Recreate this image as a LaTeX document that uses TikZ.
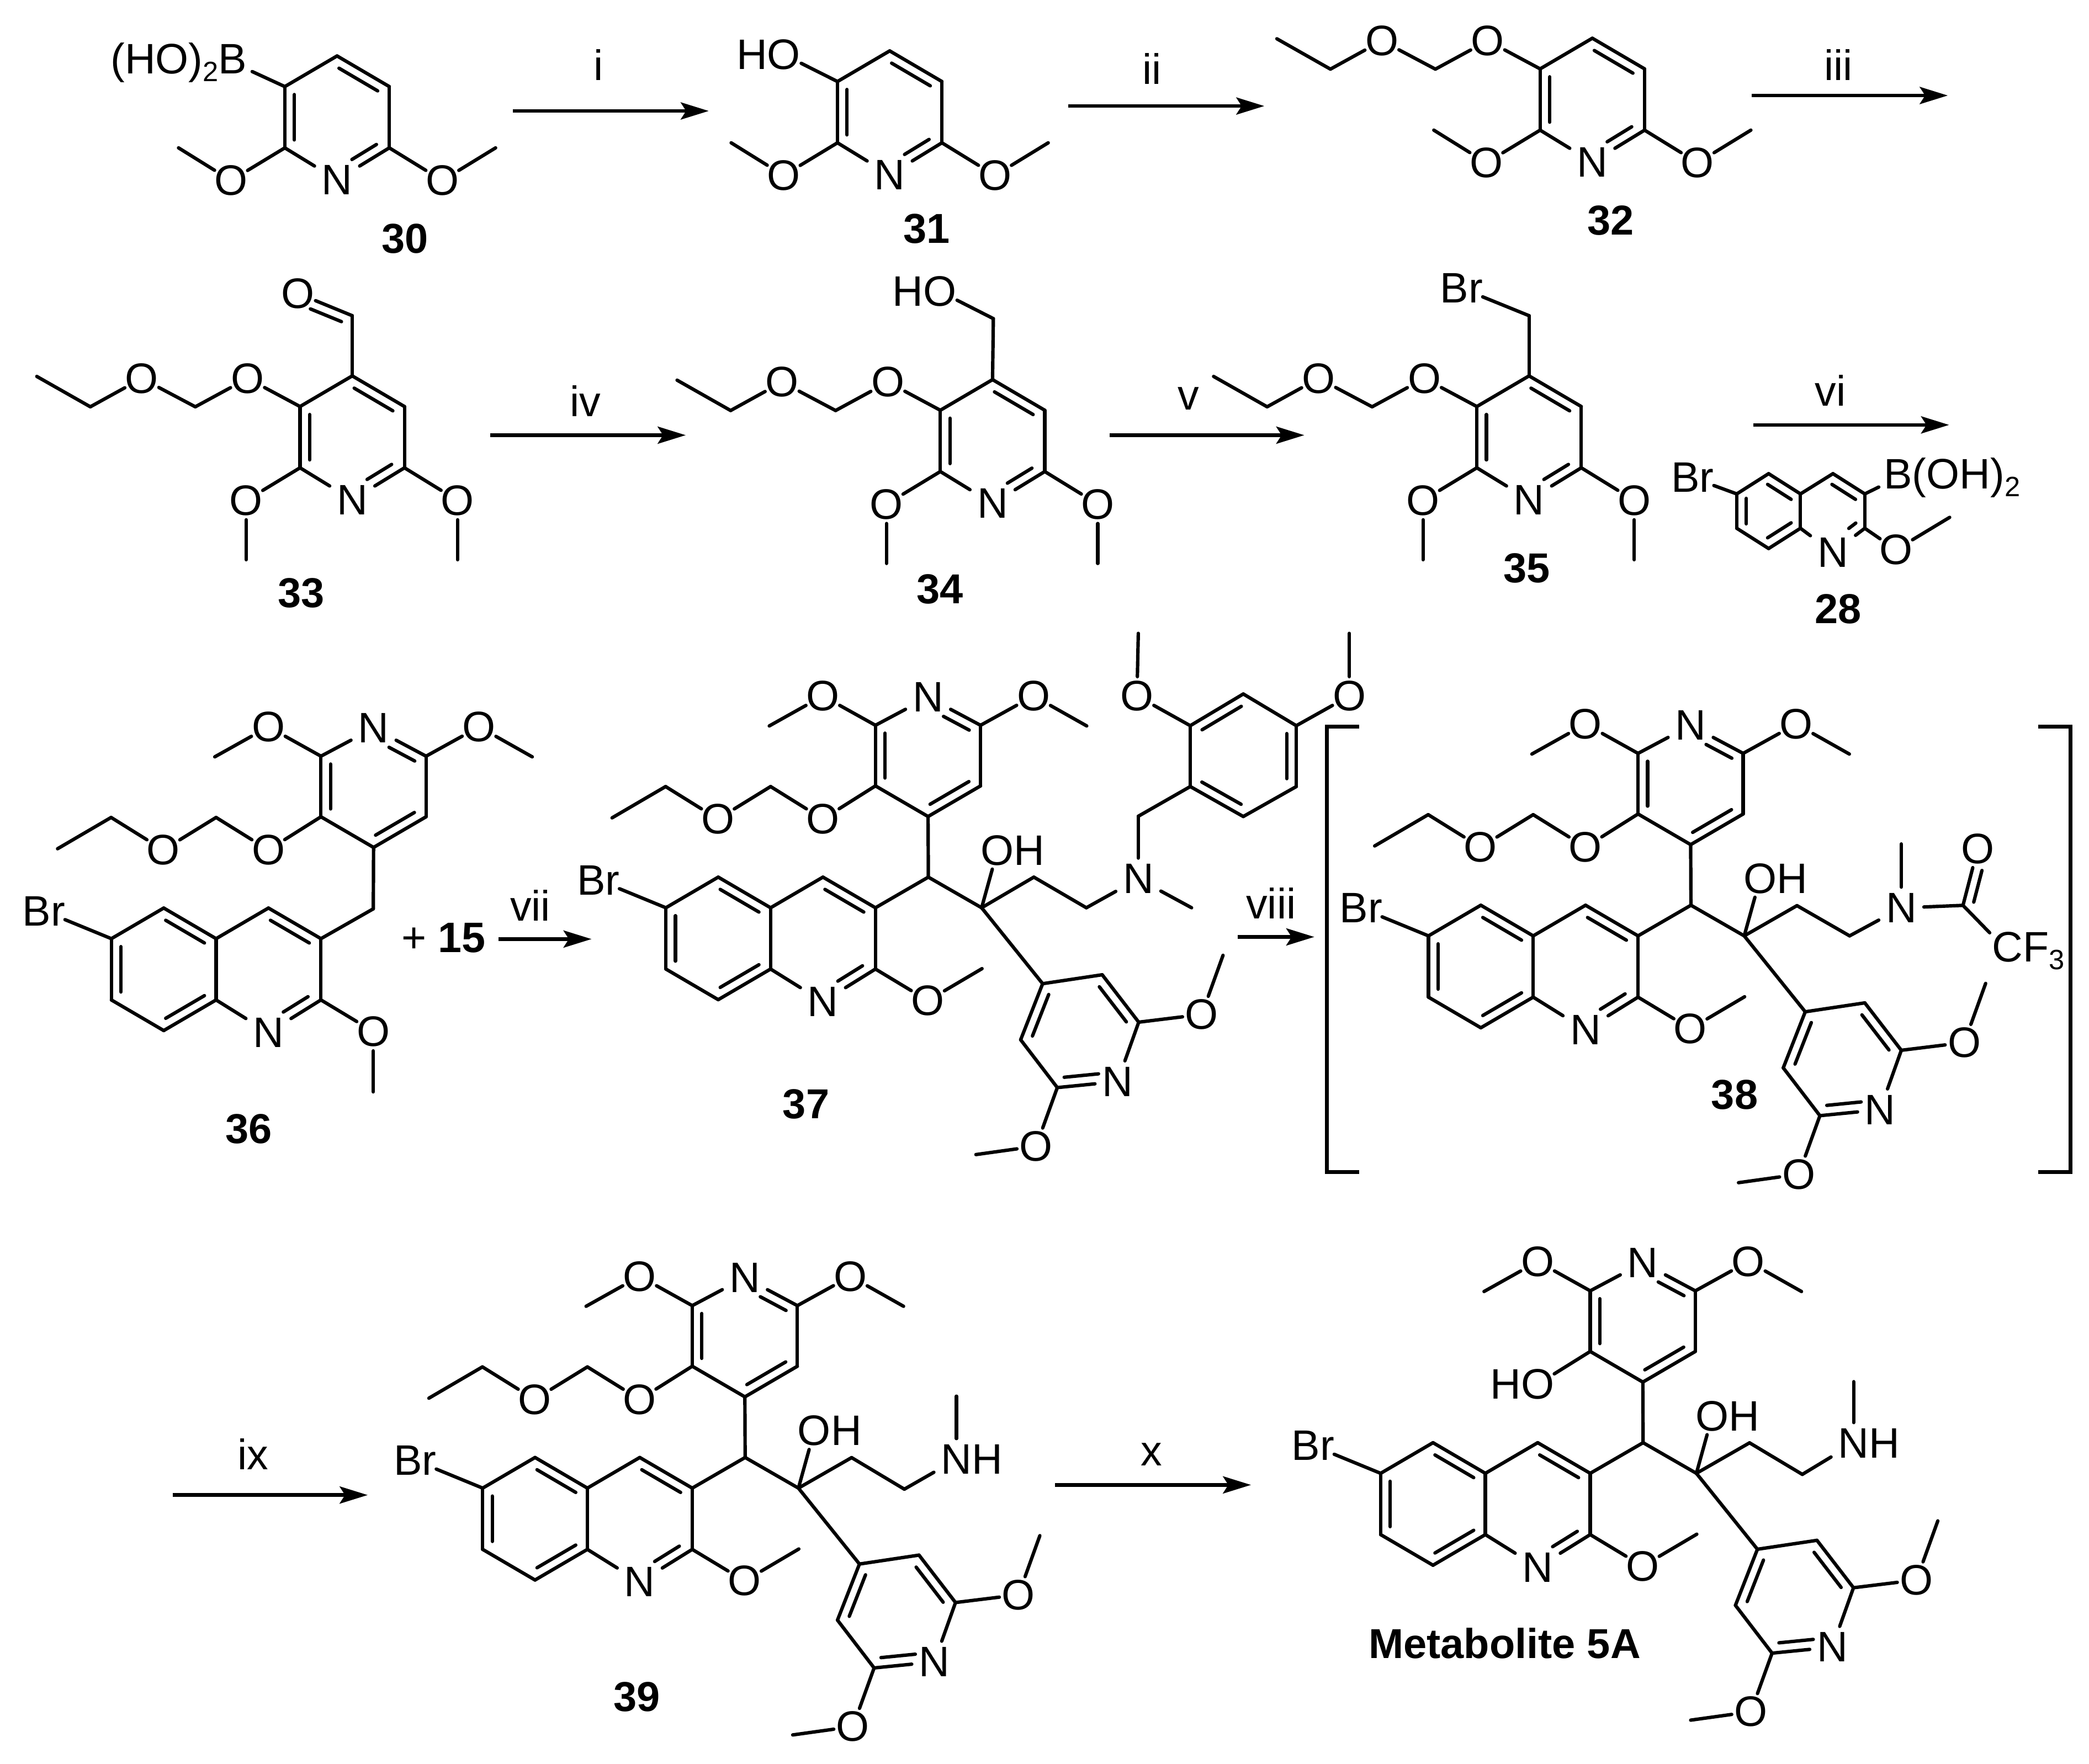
\documentclass[tikz,border=0pt]{standalone}
\usepackage{fontspec}
\setmainfont{Liberation Sans}
\usetikzlibrary{calc,arrows.meta}
\tikzset{
  bond/.style={line width=1.28pt,line cap=round,line join=round,black},
  rxn/.style={line width=1.35pt,-{Stealth[length=10.5pt,width=6.4pt,inset=2pt]}},
  brk/.style={line width=1.45pt,line join=miter},
  atom/.style={circle,inner sep=-0.8pt,outer sep=0pt,font=\fontsize{16}{16}\selectfont},
  atomN/.style={rectangle,inner xsep=2.7pt,inner ysep=2.3pt,outer sep=0pt,font=\fontsize{16}{16}\selectfont},
  reag/.style={inner sep=0pt,font=\fontsize{16}{16}\selectfont},
  cmpd/.style={inner sep=0pt,font=\fontsize{15.7}{16}\selectfont\bfseries},
}
\newcommand\subsc[1]{\raisebox{-.35ex}{\fontsize{10.5}{10.5}\selectfont #1}}
\newcommand\mkCs[1]{\foreach \n/\x/\y in {#1}{\coordinate (\n) at (\x,\y);}}
\newcommand\mkO[4]{\node[atom] (#1) at (#2,#3) {#4};}
\newcommand\mkN[4]{\node[atomN] (#1) at (#2,#3) {#4};}
\newcommand\bonds[1]{\foreach \a/\b in {#1}{\draw[bond] (\a)--(\b);}}
\newcommand\dbl[4]{\draw[bond] ($(#1)!#3!(#2)!3.6pt!-90:(#2)$)--($(#1)!#4!(#2)!3.6pt!-90:(#2)$);}
\newcommand\dblr[2]{\dbl{#1}{#2}{.13}{.87}}
% 2,6-dimethoxypyridine ring, origin at ring centre
\newcommand\pyr{%
  \mkCs{c4/0/-46,c5/39.2/-23,c6/39.2/23,c2/-39.2/23,c3/-39.2/-23}
  \mkN{n}{0}{47}{N}
  \mkO{ol}{-79.6}{47.5}{O}
  \mkO{or}{79}{47.5}{O}
  \bonds{c3/c4,c4/c5,c5/c6,c6/n,n/c2,c2/c3,c2/ol,c6/or,ol/mel,or/mer}
  \dblr{c4}{c5}\dbl{c6}{n}{.15}{.62}\dblr{c2}{c3}}
\newcommand\mediag{\mkCs{mel/-119/23,mer/119/23}}
\newcommand\medown{\mkCs{mel/-79.6/92,mer/79/92}}
% ethoxymethoxy group on a stand-alone pyridine
\newcommand\eomr{%
  \mkO{oa}{-78.6}{-44.1}{O}
  \mkCs{cha/-117.8/-22.8,chb/-196.6/-22.8,chc/-236.8/-45.6}
  \mkO{ob}{-158}{-44.1}{O}
  \bonds{c3/oa,oa/cha,cha/ob,ob/chb,chb/chc}}
% quinoline, origin at the top of the fused bond
\newcommand\quin{%
  \mkCs{c4a/0/0,c8a/0/46,c5q/-39.3/-23,c6q/-78.6/0,c7q/-78.6/46,c8q/-39.3/69,c4q/39.3/-23,c3q/78.7/0,c2q/78.7/46}
  \mkN{nq}{39.3}{70.5}{N}
  \mkO{brq}{-129.3}{-20.8}{Br}
  \mkO{oq}{118}{69.7}{O}
  \bonds{c5q/c4a,c4a/c8a,c8a/c8q,c8q/c7q,c7q/c6q,c6q/c5q,c4a/c4q,c4q/c3q,c3q/c2q,c2q/nq,nq/c8a,c6q/brq,c2q/oq,oq/meq}
  \dblr{c5q}{c4a}\dblr{c8a}{c8q}\dblr{c7q}{c6q}\dblr{c4q}{c3q}\dbl{c2q}{nq}{.15}{.62}}
% pyridine on top of the quinoline
\newcommand\toppy{%
  \mkCs{c4p/118.2/-68.5,c3p/78.7/-91.5,c2p/78.7/-137,c6p/157.6/-137,c5p/157.6/-91.5,mel/-1/-136.5,mer/237.3/-136.5}
  \mkN{np}{118.2}{-158}{N}
  \mkO{ol}{39.2}{-159}{O}
  \mkO{or}{197.4}{-159}{O}
  \bonds{np/c6p,c6p/c5p,c5p/c4p,c4p/c3p,c3p/c2p,c2p/np,c2p/ol,ol/mel,c6p/or,or/mer}
  \dbl{np}{c6p}{.38}{.87}\dblr{c5p}{c4p}\dblr{c3p}{c2p}}
\newcommand\eomq{%
  \mkO{oa}{39.2}{-66.6}{O}
  \mkO{ob}{-39.6}{-66.6}{O}
  \mkCs{cha/0/-91,chb/-78.8/-91,chc/-119/-67.5}
  \bonds{c3p/oa,oa/cha,cha/ob,ob/chb,chb/chc}}
% common core: quinoline, CH, C(OH), both pyridines
\newcommand\core{%
  \mkCs{meq/158.7/45.7}
  \quin\toppy
  \mkCs{ch/118.4/-23,cq/158.4/0,c4l/204.2/57,c3l/248.9/50.3,c2l/276.3/85.9,c6l/215.2/135,c5l/187.7/99.1,mea/339.6/35.7,meb/154.1/185.3}
  \mkO{oh}{170.3}{-43}{O\rlap{H}}
  \mkN{nl}{260.4}{130.5}{N}
  \mkO{oa2}{323.6}{80.1}{O}
  \mkO{ob2}{199.3}{179}{O}
  \bonds{c3q/ch,ch/c4p,ch/cq,cq/oh,cq/c4l,c4l/c3l,c3l/c2l,c2l/nl,nl/c6l,c6l/c5l,c5l/c4l,c2l/oa2,oa2/mea,c6l/ob2,ob2/meb}
  \dblr{c3l}{c2l}\dblr{c5l}{c4l}\dbl{nl}{c6l}{.3}{.87}}

\begin{document}
\begin{tikzpicture}[x=0.5pt,y=-0.5pt]
\useasboundingbox (0,0) rectangle (1568,1324);
\fill[white] (0,0) rectangle (1568,1324);

% ---- 30
\begin{scope}[shift={(253,88)},name prefix=a30-]
  \mediag\pyr
  \mkO{b}{-78.3}{-41}{\llap{(HO)\subsc2}B}
  \bonds{c3/b}
\end{scope}
% ---- 31
\begin{scope}[shift={(667.8,84.2)},name prefix=a31-]
  \mediag\pyr
  \mkO{oh}{-79.4}{-43.2}{\llap{H}O}
  \bonds{c3/oh}
\end{scope}
% ---- 32
\begin{scope}[shift={(1195.2,74.7)},name prefix=a32-]
  \mediag\pyr\eomr
\end{scope}
% ---- 33
\begin{scope}[shift={(264.4,328.2)},name prefix=a33-]
  \medown\pyr\eomr
  \mkCs{cho/0/-91.2}
  \mkO{oc}{-41}{-108}{O}
  \bonds{c4/cho,cho/oc}
  \dbl{oc}{cho}{.3}{.87}
\end{scope}
% ---- 34
\begin{scope}[shift={(745,331)},name prefix=a34-]
  \medown\pyr\eomr
  \mkCs{cho/0.6/-91.8}
  \mkO{oc}{-39.6}{-112.2}{\llap{H}O}
  \bonds{c4/cho,cho/oc}
\end{scope}
% ---- 35
\begin{scope}[shift={(1147.7,328.2)},name prefix=a35-]
  \medown\pyr\eomr
  \mkCs{cho/0/-91.2}
  \mkO{oc}{-50.7}{-111.8}{Br}
  \bonds{c4/cho,cho/oc}
\end{scope}
% ---- 28
\begin{scope}[name prefix=a28-]
  \mkCs{c6/1303.6/370.8,c5/1327.5/355.6,c4a/1351.4/370.8,c4/1375.8/355.6,c3/1399.7/370.8,c2/1399.7/396.6,c8a/1351.4/396.6,c8/1327.5/411.8,c7/1303.6/396.6,me/1463.4/388.4}
  \mkN{n}{1375.8}{414.8}{N}
  \mkO{br}{1270.3}{358.6}{Br}
  \mkO{b}{1424.6}{358.6}{B\rlap{(OH)\subsc2}}
  \mkO{o}{1423.1}{412.7}{O}
  \bonds{c5/c4a,c4a/c8a,c8a/c8,c8/c7,c7/c6,c6/c5,c4a/c4,c4/c3,c3/c2,c2/n,n/c8a,c6/br,c3/b,c2/o,o/me}
  \dblr{c5}{c4a}\dblr{c8a}{c8}\dblr{c7}{c6}\dblr{c4}{c3}\dbl{c2}{n}{.1}{.32}
\end{scope}
% ---- 36
\begin{scope}[shift={(162.2,704.7)},name prefix=a36-]
  \mkCs{meq/118/115,ch/118/-22.4}
  \quin\toppy\eomq
  \bonds{c3q/ch,ch/c4p}
\end{scope}
% ---- 37
\begin{scope}[shift={(578.4,681.5)},name prefix=a37-]
  \core\eomq
  \mkCs{cha1/197.6/-23,cha2/237/0,men/316/0,chn/276/-68.7,b1/315/-91,b2/315/-136.7,b3/354.8/-160.5,b4/394.6/-136.7,b5/394.6/-91,b6/354.8/-68.5,mea1/276/-206,mea2/434.4/-206}
  \mkN{nc}{276}{-21.7}{N}
  \mkO{oa1}{275}{-159}{O}
  \mkO{ob1}{434.4}{-159}{O}
  \bonds{cq/cha1,cha1/cha2,cha2/nc,nc/men,nc/chn,chn/b1,b1/b2,b2/b3,b3/b4,b4/b5,b5/b6,b6/b1,b2/oa1,oa1/mea1,b4/ob1,ob1/mea2}
  \dblr{b2}{b3}\dblr{b4}{b5}\dblr{b6}{b1}
\end{scope}
% ---- 38
\begin{scope}[shift={(1150.8,702.6)},name prefix=a38-]
  \core\eomq
  \mkCs{cha1/198/-22.7,cha2/237.5/0,men/276.3/-69,co/322.6/-22.9}
  \mkN{nc}{276.3}{-21}{N}
  \mkO{oc}{333.6}{-65.3}{O}
  \node[atom,inner sep=0.3pt] (cf) at (356,11.4) {C\rlap{F\subsc3}};
  \bonds{cq/cha1,cha1/cha2,cha2/nc,nc/men,nc/co,co/cf,co/oc}
  \dbl{co}{oc}{.1}{.66}
\end{scope}
% ---- 39
\begin{scope}[shift={(440.9,1117.2)},name prefix=a39-]
  \core\eomq
  \mkCs{cha1/198.3/-22.9,cha2/237.9/0.8,men/277/-69}
  \mkN{nc}{277}{-21.6}{N\rlap{H}}
  \bonds{cq/cha1,cha1/cha2,cha2/nc,nc/men}
\end{scope}
% ---- Metabolite 5A
\begin{scope}[shift={(1114.9,1106.1)},name prefix=a5-]
  \core
  \mkO{oh3}{39.4}{-67}{\llap{H}O}
  \mkCs{cha1/198.3/-22.9,cha2/237.9/0.8,men/276.4/-68.8}
  \mkN{nc}{276.4}{-22.5}{N\rlap{H}}
  \bonds{c3p/oh3,cq/cha1,cha1/cha2,cha2/nc,nc/men}
\end{scope}

% ---- compound labels
\node[cmpd] (l30) at (303.8,179.3) {30};
\node[cmpd] (l31) at (695.4,171.7) {31};
\node[cmpd] (l32) at (1209,165.6) {32};
\node[cmpd] (l33) at (226,445.2) {33};
\node[cmpd] (l34) at (705.4,442.2) {34};
\node[cmpd] (l35) at (1145.8,426.4) {35};
\node[cmpd] (l28) at (1379.8,457.4) {28};
\node[cmpd] (l36) at (186.8,847.5) {36};
\node[cmpd] (l37) at (605,829) {37};
\node[cmpd] (l38) at (1302,822) {38};
\node[cmpd] (l39) at (478,1274) {39};
\node[cmpd] (l5a) at (1129.4,1233.7) {Metabolite 5A};
\node[reag] (plus15) at (333,704) {+ \textbf{15}};

% ---- reaction arrows
\newcommand\rxnarrow[6]{%
  \coordinate (#1s) at (#2,#4);
  \coordinate (#1e) at (#3,#4);
  \draw[rxn] (#1s)--(#1e);
  \node[reag] (#1l) at (#5) {#6};}
\rxnarrow{r1}{385}{532}{83.3}{449.4,48.6}{i}
\rxnarrow{r2}{802}{949}{79.6}{864.5,51.7}{ii}
\rxnarrow{r3}{1315}{1462}{71.7}{1379.8,48.6}{iii}
\rxnarrow{r4}{368}{514.7}{326.7}{439.3,300.9}{iv}
\rxnarrow{r5}{833}{979}{326.7}{891.9,299.3}{v}
\rxnarrow{r6}{1316}{1463}{319}{1373.8,293.3}{vi}
\rxnarrow{r7}{374}{444}{705}{398,679.6}{vii}
\rxnarrow{r8}{929}{986.5}{703.4}{954,678.3}{viii}
\rxnarrow{r9}{129.5}{276}{1122.4}{189.8,1091.7}{ix}
\rxnarrow{r10}{792}{939}{1114.8}{864.5,1091.7}{x}

% ---- brackets round 38
\draw[brk] (1020,545.4)--(996,545.4)--(996,880)--(1020,880);
\draw[brk] (1530,545.4)--(1554,545.4)--(1554,880)--(1530,880);
\end{tikzpicture}
\end{document}
